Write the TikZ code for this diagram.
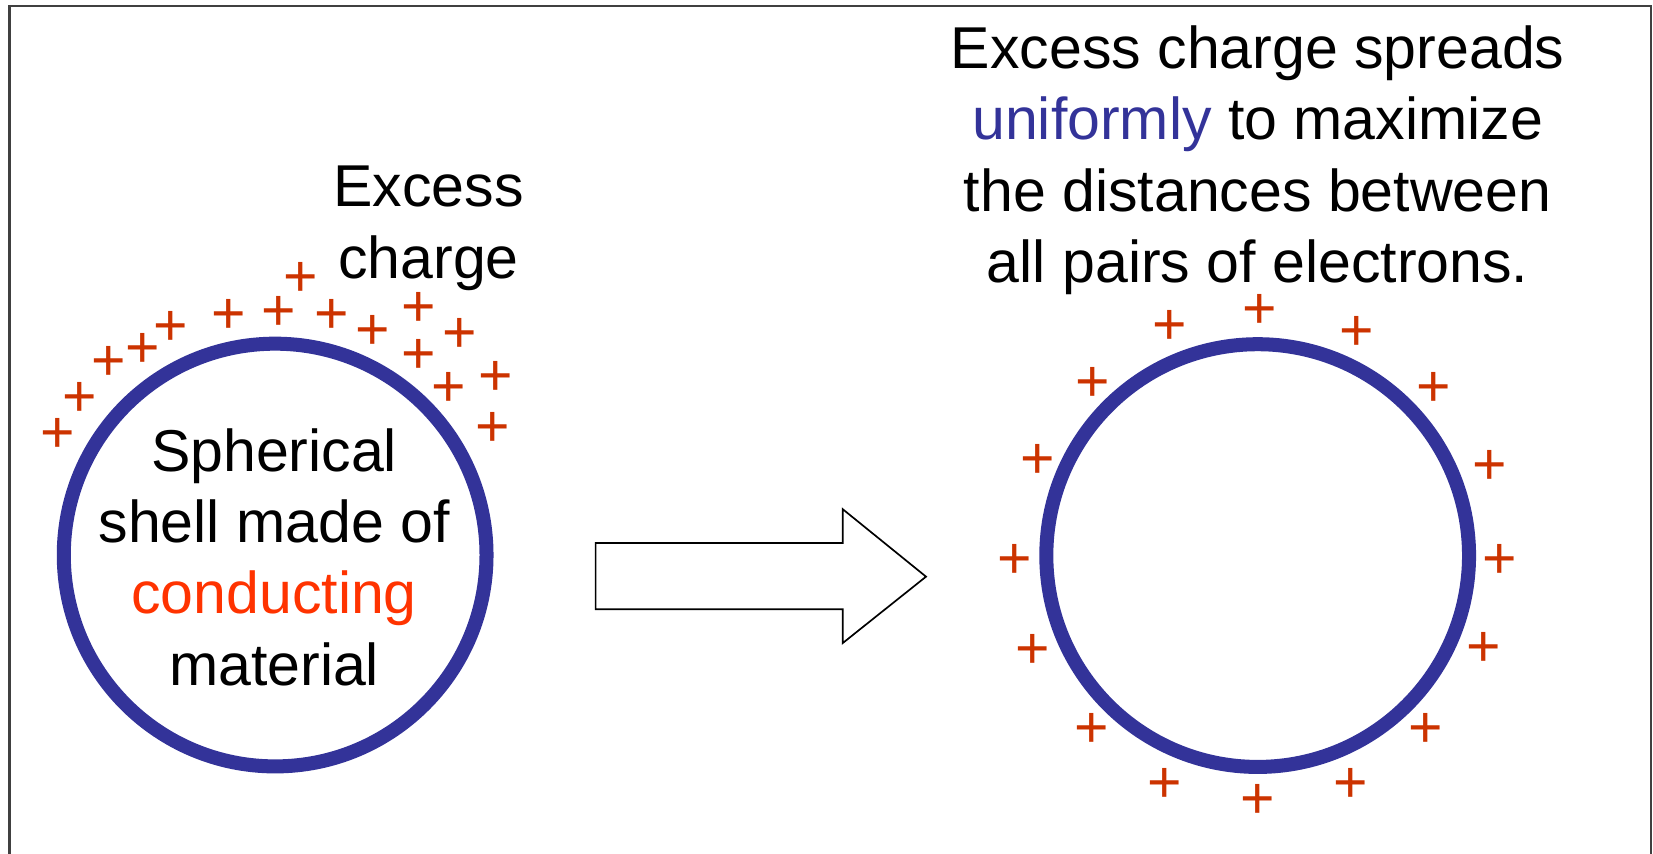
\documentclass[tikz,border=0pt]{standalone}
\usepackage{fontspec}
\setmainfont{Liberation Sans}
\definecolor{shellblue}{RGB}{51,51,153}
\definecolor{chargered}{RGB}{204,51,0}
\definecolor{condred}{RGB}{255,51,0}
\definecolor{framegray}{RGB}{64,64,64}

\begin{document}
\begin{tikzpicture}[x=1pt, y=-1pt,
  labeltext/.style={font=\fontsize{56}{67.7}\selectfont, align=center, inner sep=0pt, anchor=base},
  charge/.style={font=\fontsize{56}{56}\selectfont, text=chargered, inner sep=0pt},
  shell/.style={circle, draw=shellblue, line width=13.3pt, minimum size=401pt, inner sep=0pt},
  blockarrow/.style={draw=black, line width=1.6pt, fill=white, line join=miter},
  framestyle/.style={draw=framegray, line width=2.5pt}]

\useasboundingbox (0,0) rectangle (1568,810);

% outer frame (open at the bottom)
\draw[framestyle] (9,812) -- (9,5.7) -- (1566,5.7) -- (1566,812);

% the two conducting shells
\node[shell] (lshell) at (261,526.5) {};
\node[shell] (rshell) at (1193,527) {};

% labels (base anchor sits on the last line's baseline)
\node[labeltext] (shelltext) at (260,650)
  {Spherical\\shell made of\\\textcolor{condred}{conducting}\\material};
\node[labeltext] (excesstext) at (406.5,264) {Excess\\charge};
\node[labeltext] (spreadtext) at (1193,268)
  {Excess charge spreads\\\textcolor{shellblue}{uniformly} to maximize\\the distances between\\all pairs of electrons.};

% block arrow between the two states
\draw[blockarrow] (565,515) -- (799.4,515) -- (799.4,483) -- (878.4,547)
  -- (799.4,610) -- (799.4,578) -- (565,578) -- cycle;

% excess charge bunched on the upper side of the left shell
\foreach \px/\py [count=\i] in {285/262, 217/297, 264/294, 315/297, 397/291,
    162/309, 354/312, 436/315, 135/329, 397/335, 103/342, 470/356,
    426/366, 76/376, 467/404, 55/410}
  \node[charge] (lq\i) at (\px,\py+3) {+};

% charge spread evenly round the right shell
\foreach \px/\py [count=\i] in {1195/292, 1110/308, 1287/313, 1037/362,
    1360/366, 984/435, 1413/440, 963/530, 1423/530, 980/615, 1407/613,
    1036/690, 1352/690, 1105/742, 1281/742, 1193/757}
  \node[charge] (rq\i) at (\px,\py+3) {+};
\end{tikzpicture}
\end{document}
